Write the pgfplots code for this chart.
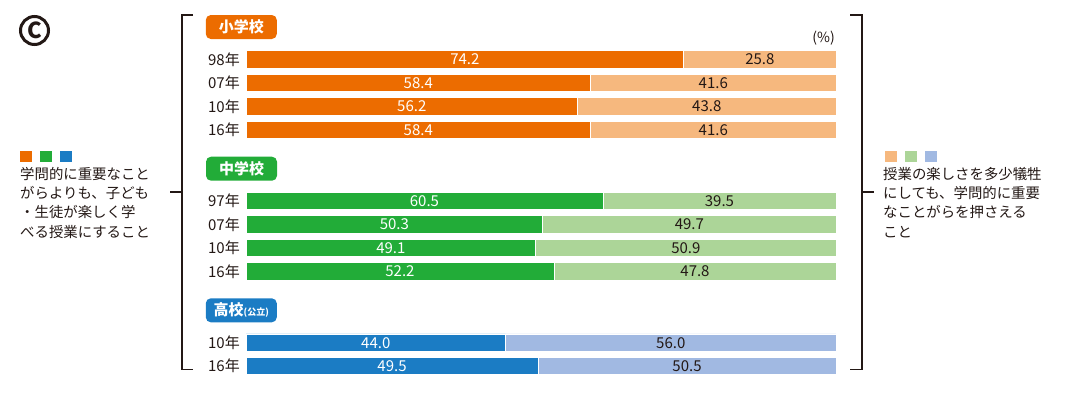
\documentclass[border=0pt]{standalone}
\usepackage{fontspec}
\setmainfont{Noto Sans CJK JP}
\usepackage{pgfplots}
\pgfplotsset{compat=1.18}

\definecolor{txt}{HTML}{231815}
\definecolor{orD}{HTML}{EC6C00}
\definecolor{orL}{HTML}{F6B87E}
\definecolor{grD}{HTML}{22AC38}
\definecolor{grL}{HTML}{ACD598}
\definecolor{blD}{HTML}{1B7CC4}
\definecolor{blL}{HTML}{A1B9E2}

% one axis per school group, all sharing the same pixel-like frame
\pgfplotsset{grp/.style={
    at={(246pt,0pt)}, anchor=north west,
    scale only axis, width=590pt, height=400pt,
    xmin=0, xmax=100, ymin=0, ymax=400, y dir=reverse,
    hide axis, clip=false,
    xbar stacked, bar width=17.5,
    /pgf/number format/assume math mode=true,
    visualization depends on={rawx \as \rx},
    nodes near coords={\pgfmathprintnumber[fixed,fixed zerofill,precision=1]{\rx}},
    every node near coord/.append style={anchor=center,
        font=\fontsize{15}{18}\selectfont, inner sep=0pt},
  },
  dark/.style={fill=#1, draw=white, line width=0.6pt,
    every node near coord/.append style={text=white}},
  light/.style={fill=#1, draw=white, line width=0.6pt,
    every node near coord/.append style={text=txt}},
}

\begin{document}
\begin{tikzpicture}
\path[use as bounding box] (0,0) rectangle (1065pt,-400pt);

% 小学校
\begin{axis}[grp]
\addplot[dark=orD] coordinates {(74.2,59.5) (58.4,83) (56.2,106.5) (58.4,130)};
\addplot[light=orL] coordinates {(25.8,59.5) (41.6,83) (43.8,106.5) (41.6,130)};
\end{axis}

% 中学校
\begin{axis}[grp]
\addplot[dark=grD] coordinates {(60.5,201) (50.3,224.5) (49.1,248) (52.2,271.5)};
\addplot[light=grL] coordinates {(39.5,201) (49.7,224.5) (50.9,248) (47.8,271.5)};
\end{axis}

% 高校（公立）
\begin{axis}[grp]
\addplot[dark=blD] coordinates {(44.0,342.7) (49.5,366)};
\addplot[light=blL] coordinates {(56.0,342.7) (50.5,366)};
\end{axis}

% row labels
\begin{scope}[every node/.style={anchor=east, text=txt, inner sep=0pt,
    font=\fontsize{15}{18}\selectfont}]
\node at (240pt,-59.5pt) {98年};
\node at (240pt,-83pt) {07年};
\node at (240pt,-106.5pt) {10年};
\node at (240pt,-130pt) {16年};
\node at (240pt,-201pt) {97年};
\node at (240pt,-224.5pt) {07年};
\node at (240pt,-248pt) {10年};
\node at (240pt,-271.5pt) {16年};
\node at (240pt,-342.7pt) {10年};
\node at (240pt,-366pt) {16年};
\end{scope}

% group badges
\begin{scope}[every node/.style={rounded corners=5pt, minimum width=71pt,
    minimum height=24pt, inner sep=0pt, text=white,
    font=\bfseries\fontsize{15}{18}\selectfont}]
\node[fill=orD] at (241.3pt,-27pt) {小学校};
\node[fill=grD] at (241.5pt,-168.7pt) {中学校};
\node[fill=blD] at (241.3pt,-310.3pt) {高校{\fontsize{9}{10}\selectfont(公立)}};
\end{scope}

\node[anchor=east, text=txt, inner sep=0pt, font=\fontsize{14}{16}\selectfont]
  at (835pt,-38pt) {(\%)};

% brackets
\draw[txt, line width=1.8pt] (193pt,-15pt) -- (182pt,-15pt) -- (182pt,-369.5pt) -- (193pt,-369.5pt);
\draw[txt, line width=1.8pt] (170pt,-192pt) -- (182pt,-192pt);
\draw[txt, line width=1.8pt] (850pt,-15pt) -- (862pt,-15pt) -- (862pt,-369.5pt) -- (850pt,-369.5pt);
\draw[txt, line width=1.8pt] (862pt,-192pt) -- (874pt,-192pt);

% legend-like squares and texts
\fill[orD] (20pt,-151pt) rectangle (32pt,-162pt);
\fill[grD] (40pt,-151pt) rectangle (52pt,-162pt);
\fill[blD] (60pt,-151pt) rectangle (72pt,-162pt);
\fill[orL] (885pt,-151pt) rectangle (897pt,-162pt);
\fill[grL] (905pt,-151pt) rectangle (917pt,-162pt);
\fill[blL] (925pt,-151pt) rectangle (937pt,-162pt);

\node[anchor=north west, align=left, inner sep=0pt, text=txt,
  font=\fontsize{14.4}{19.3}\selectfont] at (20pt,-167pt)
  {学問的に重要なこと\\がらよりも、子ども\\・生徒が楽しく学\\べる授業にすること};
\node[anchor=north west, align=left, inner sep=0pt, text=txt,
  font=\fontsize{14.4}{19.3}\selectfont] at (883pt,-167pt)
  {授業の楽しさを多少犠牲\\にしても、学問的に重要\\なことがらを押さえる\\こと};

% circled C
\draw[txt, line width=3pt] (34.5pt,-30.5pt) circle (14pt);
\node[text=txt, inner sep=0pt, font=\bfseries\fontsize{22}{22}\selectfont]
  at (34.5pt,-30.5pt) {C};
\end{tikzpicture}
\end{document}
